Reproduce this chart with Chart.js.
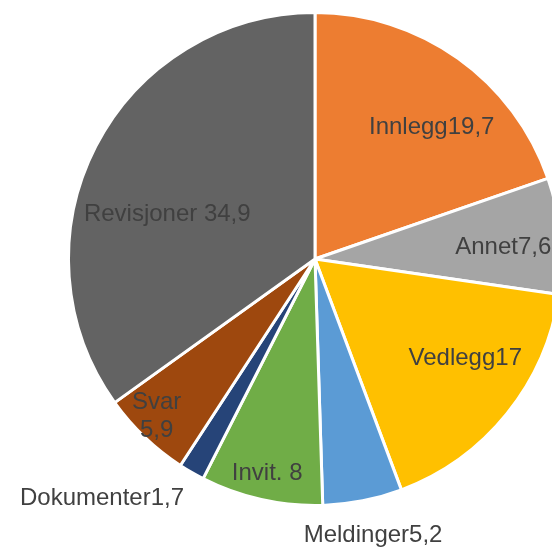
<!DOCTYPE html>
<html>
<head>
<meta charset="utf-8">
<script src="https://cdn.jsdelivr.net/npm/chart.js@4/dist/chart.umd.min.js"></script>
<style>
    html, body { margin: 0; padding: 0; background: #ffffff; overflow: hidden; }
    #wrap { width: 552px; height: 547px; overflow: hidden; position: relative; }
    #pieChart { display: block; }
</style>
</head>
<body>
<div id="wrap">
    <canvas id="pieChart" width="630" height="547"></canvas>
</div>
<script>
// Data
const categories = ['Innlegg', 'Annet', 'Vedlegg', 'Meldinger', 'Invit.', 'Dokumenter', 'Svar', 'Revisjoner'];
const values = [19.7, 7.6, 17, 5.2, 8, 1.7, 5.9, 34.9];
const separators = ['', '', '', '', ' ', '', '\n', ' '];

// Colors
const sliceColors = ['#ED7D31', '#A5A5A5', '#FFC000', '#5B9BD5', '#70AD47', '#264478', '#9E480E', '#636363'];

// Label placement: [radius fraction, angle tweak in degrees]
const labelPlacement = [
    [0.715, 6], [0.765, 2], [0.73, -5.5], [1.146, -0.7],
    [0.89, 0], [1.30, 11.6], [0.905, 1.5], [0.626, -10.4]
];

function formatValue(v) {
    return String(v).replace('.', ',');
}

const sliceLabels = {
    id: 'sliceLabels',
    afterDatasetsDraw(chart) {
        const ctx = chart.ctx;
        const meta = chart.getDatasetMeta(0);
        ctx.save();
        ctx.fillStyle = '#404040';
        ctx.font = '24px "Liberation Sans", Arial, sans-serif';
        ctx.textAlign = 'center';
        ctx.textBaseline = 'middle';
        meta.data.forEach((arc, i) => {
            const p = labelPlacement[i];
            const mid = (arc.startAngle + arc.endAngle) / 2 + p[1] * Math.PI / 180;
            const r = arc.outerRadius * p[0];
            const x = arc.x + Math.cos(mid) * r;
            const y = arc.y + Math.sin(mid) * r;
            const lines = (categories[i] + separators[i] + formatValue(values[i])).split('\n');
            const lh = 28;
            lines.forEach((line, k) => {
                ctx.fillText(line, x, y + (k - (lines.length - 1) / 2) * lh);
            });
        });
        ctx.restore();
    }
};

const ctx = document.getElementById('pieChart').getContext('2d');
const pieChart = new Chart(ctx, {
    type: 'pie',
    data: {
        labels: categories,
        datasets: [{
            data: values,
            backgroundColor: sliceColors,
            borderColor: '#ffffff',
            borderWidth: 3
        }]
    },
    options: {
        responsive: false,
        animation: false,
        layout: {
            padding: { top: 11, bottom: 40, left: 0, right: 0 }
        },
        plugins: {
            legend: { display: false },
            tooltip: { enabled: false }
        }
    },
    plugins: [sliceLabels]
});
</script>
</body>
</html>
